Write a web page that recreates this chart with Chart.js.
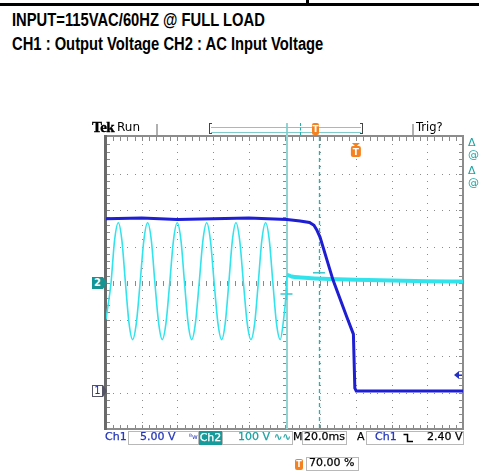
<!DOCTYPE html>
<html>
<head>
<meta charset="utf-8">
<script src="https://cdn.jsdelivr.net/npm/chart.js@4.4.1/dist/chart.umd.min.js"></script>
<style>
body{margin:0;background:#fff;width:479px;height:474px;position:relative;overflow:hidden;font-family:"DejaVu Sans",sans-serif}
.a{position:absolute;white-space:nowrap}
.ttl{font:bold 18px/18px "Liberation Sans",Arial,sans-serif;color:#000;transform:scaleX(0.82);transform-origin:0 0}
.s{font-size:11px;line-height:14px;top:430px;-webkit-text-stroke:0.25px currentColor}
.box{position:absolute;box-sizing:border-box;border:1px solid #b8b8b8;height:14px;top:431px}
#c{position:absolute;left:0;top:0}
</style>
</head>
<body>
<div class="a" style="left:0;top:3px;width:479px;height:3px;background:#000"></div>
<div class="a" style="left:306px;top:0;width:3px;height:5px;background:#000"></div>
<div class="a ttl" style="left:12px;top:11px">INPUT=115VAC/60HZ @ FULL LOAD</div>
<div class="a ttl" style="left:12px;top:35px">CH1 : Output Voltage CH2 : AC Input Voltage</div>

<canvas id="c" width="479" height="474"></canvas>

<!-- scope header -->
<div class="a" style="left:92px;top:119px;font:bold 15px/16px 'Liberation Serif',serif;letter-spacing:-0.5px;-webkit-text-stroke:0.4px #000">Tek</div>
<div class="a" style="left:117px;top:120px;font-size:12px;line-height:14px">Run</div>
<div class="a" style="left:156px;top:124px;width:2px;height:11px;background:#b0b0b0"></div>
<div class="a" style="left:412px;top:124px;width:2px;height:11px;background:#b0b0b0"></div>
<div class="a" style="left:416px;top:120px;font-size:11.5px;line-height:14px">Trig?</div>
<div class="a" style="left:209px;top:123px;width:3px;height:11px;border:1px solid #444;border-right:none;box-sizing:border-box"></div>
<div class="a" style="left:360px;top:123px;width:3px;height:11px;border:1px solid #444;border-left:none;box-sizing:border-box"></div>
<div class="a" style="left:211px;top:127px;width:150px;height:1px;background:#7fcaca"></div>
<div class="a" style="left:211px;top:132px;width:150px;height:1px;background:#7fcaca"></div>
<div class="a" style="left:300px;top:123px;width:0;height:12px;border-left:1px dashed #20b0b0"></div>
<div class="a" style="left:312px;top:123px;width:7px;height:12px;background:#f58220;border-radius:2px;color:#fff;font:bold 9px/12px 'DejaVu Sans';text-align:center">T</div>
<div class="a" style="left:468px;top:137px;color:#1aa3a3;font-size:11px;line-height:12px">Δ<br>@</div>
<div class="a" style="left:468px;top:165px;color:#1aa3a3;font-size:11px;line-height:12px">Δ<br>@</div>

<!-- ground markers -->
<div class="a" style="left:92px;top:277px;width:11px;height:12px;background:#169494;color:#fff;font:bold 10px/12px 'DejaVu Sans';text-align:center">2</div>
<div class="a" style="left:103px;top:277px;width:0;height:0;border-top:6px solid transparent;border-bottom:6px solid transparent;border-left:4px solid #169494"></div>
<div class="a" style="left:92px;top:385px;width:11px;height:12px;box-sizing:border-box;border:1px solid #556;color:#2230a8;font:10px/10px 'DejaVu Sans';text-align:center">1</div>
<div class="a" style="left:103px;top:385px;width:0;height:0;border-top:6px solid transparent;border-bottom:6px solid transparent;border-left:4px solid #556"></div>

<!-- status bar -->
<div class="a s" style="left:105px;color:#2335b8">Ch1</div>
<div class="box" style="left:128px;width:71px"></div>
<div class="a s" style="left:140px;color:#2335b8">5.00 V</div>
<div class="a" style="left:189px;top:433px;font-size:7px;line-height:8px;color:#2335b8">ᴮw</div>
<div class="a s" style="left:199px;width:23px;height:14px;top:431px;background:#179a9a;color:#fff;text-align:center;line-height:14px">Ch2</div>
<div class="box" style="left:222px;width:71px"></div>
<div class="a s" style="left:238px;color:#1a9f9f">100 V</div>
<div class="a s" style="left:274px;color:#1a9f9f;font-size:10px">∿∿</div>
<div class="a s" style="left:293px">M</div>
<div class="box" style="left:302px;width:45px"></div>
<div class="a s" style="left:304px">20.0ms</div>
<div class="a s" style="left:357px">A</div>
<div class="box" style="left:366px;width:98px"></div>
<div class="a s" style="left:375px;color:#2335b8">Ch1</div>
<svg class="a" style="left:403px;top:433px" width="11" height="10"><path d="M0.5 1.5 H4.5 V8.5 H10" fill="none" stroke="#000" stroke-width="1.5"/></svg>
<div class="a s" style="left:427px">2.40 V</div>
<div class="a" style="left:295px;top:459px;width:8px;height:11px;background:#f58220;border-radius:2px;color:#fff;font:bold 8px/11px 'DejaVu Sans';text-align:center">T</div>
<div class="box" style="left:306px;top:457px;width:53px"></div>
<div class="a s" style="left:309px;top:456px">70.00 %</div>

<script>
// time axis in ms (20 ms/div, trigger at 70 %)
const timeRange = [-140, 60];
// Ch1: output voltage, 5 V/div, ground 3 div below centre
const ch1Time  = [-140, -120, -100, -80, -60, -38.6, -31.3, -26, -23.5, -22, -20.1, -12.8, -5.2, -1.4, -0.6, 0.2, 10, 30, 60];
const ch1Volts = [23.8, 23.9, 23.7, 23.8, 23.9, 23.7, 23.5, 23.3, 22.9, 22.3, 21.3, 15.4, 10.4, 8.0, 0.6, 0.2, 0.2, 0.2, 0.2];
// Ch2: AC input voltage, 100 V/div, ground at centre
const ch2Time  = [-140, -137.2, -135.2, -133.1, -131.1, -129.1, -127.1, -125.1, -123.0, -120.9,
                  -118.8, -116.7, -114.6, -112.6, -110.5, -108.5, -106.4, -104.3, -102.2, -100.1,
                  -98.0, -96.0, -94.0, -92.0, -89.9, -87.8, -85.7, -83.6, -81.5, -79.4,
                  -77.3, -75.2, -73.2, -71.2, -69.2, -67.2, -65.1, -63.0, -60.9, -58.8,
                  -56.7, -54.7, -52.7, -50.6, -48.5, -46.5, -44.5, -42.4, -40.5, -39.2,
                  -38.6, -36, -31, -25, -15, 0, 20, 40, 60];
const ch2Volts = [-100, 0, 117, 165, 117, 0, -110, -155, -110, 0,
                  117, 165, 117, 0, -110, -155, -110, 0, 117, 165,
                  117, 0, -110, -155, -110, 0, 117, 165, 117, 0,
                  -110, -155, -110, 0, 117, 165, 117, 0, -110, -155,
                  -110, 0, 117, 165, 117, 0, -110, -155, -100, -35,
                  22, 18, 15, 13, 11, 9, 7, 5, 4];
const acOffTime = -38.6;
const cursorTimes = [-38.6, -20.7];
const cursorMarks = [{x: -38.9, y: -30}, {x: -20.7, y: 28}];
const trigLevel = 2.4;
const trigTime = 0;

const pts = (xs, ys) => xs.map((x, i) => ({x: x, y: ys[i]}));

const graticule = {
    id: 'graticule',
    beforeDatasetsDraw(chart) {
        const {ctx, chartArea: a} = chart;
        const dx = (a.right - a.left) / 10, dy = (a.bottom - a.top) / 8;
        ctx.save();
        ctx.fillStyle = '#8a8a8a';
        for (let i = 1; i < 10; i++) {
            const gx = Math.round(a.left + i * dx);
            for (let j = 1; j < 40; j++) ctx.fillRect(gx, Math.round(a.top + j * dy / 5), 1, 1);
        }
        for (let i = 1; i < 8; i++) {
            const gy = Math.round(a.top + i * dy);
            for (let j = 1; j < 50; j++) ctx.fillRect(Math.round(a.left + j * dx / 5), gy, 1, 1);
        }
        const cx = Math.round(a.left + 5 * dx), cy = Math.round(a.top + 4 * dy);
        for (let j = 1; j < 40; j++) ctx.fillRect(cx - 2, Math.round(a.top + j * dy / 5), 5, 1);
        for (let j = 1; j < 50; j++) ctx.fillRect(Math.round(a.left + j * dx / 5), cy - 2, 1, 5);
        for (let j = 1; j < 50; j++) {
            const tx = Math.round(a.left + j * dx / 5);
            ctx.fillRect(tx, a.top, 1, 4);
            ctx.fillRect(tx, a.bottom - 4, 1, 4);
        }
        for (let j = 1; j < 40; j++) {
            const ty = Math.round(a.top + j * dy / 5);
            ctx.fillRect(a.left, ty, 4, 1);
            ctx.fillRect(a.right - 4, ty, 4, 1);
        }
        ctx.strokeStyle = '#8c8c8c';
        ctx.lineWidth = 2;
        ctx.strokeRect(a.left, a.top - 1, a.right - a.left, a.bottom - a.top + 1);
        ctx.fillStyle = '#6a6a6a';
        ctx.fillRect(a.left - 2, a.top - 2, 3, a.bottom - a.top + 3);

        // cursors
        const xs = chart.scales.x;
        const c1 = Math.round(xs.getPixelForValue(cursorTimes[0]));
        ctx.fillStyle = '#93d5d5';
        ctx.fillRect(c1 - 1, 123, 2, a.bottom - 123);
        const c2 = Math.round(xs.getPixelForValue(cursorTimes[1])) + 0.5;
        ctx.strokeStyle = '#1fb3b3';
        ctx.lineWidth = 1.3;
        ctx.setLineDash([4, 3]);
        ctx.beginPath();
        ctx.moveTo(c2, a.top);
        ctx.lineTo(c2, a.bottom);
        ctx.stroke();
        ctx.restore();
    },
    afterDatasetsDraw(chart) {
        const {ctx, chartArea: a, scales} = chart;
        ctx.save();
        // trigger level arrow (Ch1)
        const ty = scales.y1.getPixelForValue(trigLevel);
        ctx.fillStyle = '#2330c0';
        ctx.beginPath();
        ctx.moveTo(a.right - 9, ty);
        ctx.lineTo(a.right - 4, ty - 4);
        ctx.lineTo(a.right - 4, ty + 4);
        ctx.closePath();
        ctx.fill();
        ctx.fillRect(a.right - 4, ty - 0.5, 3, 1.5);
        // trigger position marker
        const tx = scales.x.getPixelForValue(trigTime);
        ctx.fillStyle = '#f58220';
        ctx.beginPath();
        ctx.moveTo(tx - 4, a.top + 6);
        ctx.lineTo(tx + 4, a.top + 6);
        ctx.lineTo(tx, a.top + 10);
        ctx.closePath();
        ctx.fill();
        ctx.beginPath();
        ctx.roundRect(tx - 5, a.top + 9, 10, 11, 2);
        ctx.fill();
        ctx.fillStyle = '#fff';
        ctx.font = 'bold 9px "DejaVu Sans"';
        ctx.textAlign = 'center';
        ctx.fillText('T', tx, a.top + 18);
        ctx.restore();
    }
};

const ctx = document.getElementById('c').getContext('2d');
const scope = new Chart(ctx, {
    type: 'line',
    data: {
        datasets: [{
            label: 'Ch1',
            data: pts(ch1Time, ch1Volts),
            yAxisID: 'y1',
            borderColor: '#1e1ed2',
            borderWidth: 3,
            pointRadius: 0,
            tension: 0
        }, {
            label: 'Ch2',
            data: pts(ch2Time, ch2Volts),
            yAxisID: 'y2',
            borderColor: '#33e3ec',
            borderWidth: 1.6,
            pointRadius: 0,
            cubicInterpolationMode: 'monotone',
            segment: {
                borderWidth: c => c.p0.parsed.x >= acOffTime - 0.05 ? 4 : 1.6
            }
        }, {
            label: 'marks',
            data: cursorMarks,
            yAxisID: 'y2',
            showLine: false,
            pointStyle: ['cross', 'line'],
            pointRadius: 6,
            borderColor: '#3cc6cc',
            borderWidth: 1.5
        }]
    },
    options: {
        responsive: false,
        animation: false,
        devicePixelRatio: 1,
        layout: {padding: {left: 106, top: 137, right: 16, bottom: 45}},
        plugins: {legend: {display: false}, tooltip: {enabled: false}},
        scales: {
            x: {type: 'linear', min: timeRange[0], max: timeRange[1], display: false},
            y1: {min: -5, max: 35, display: false},
            y2: {min: -400, max: 400, display: false}
        }
    },
    plugins: [graticule]
});
</script>
</body>
</html>
